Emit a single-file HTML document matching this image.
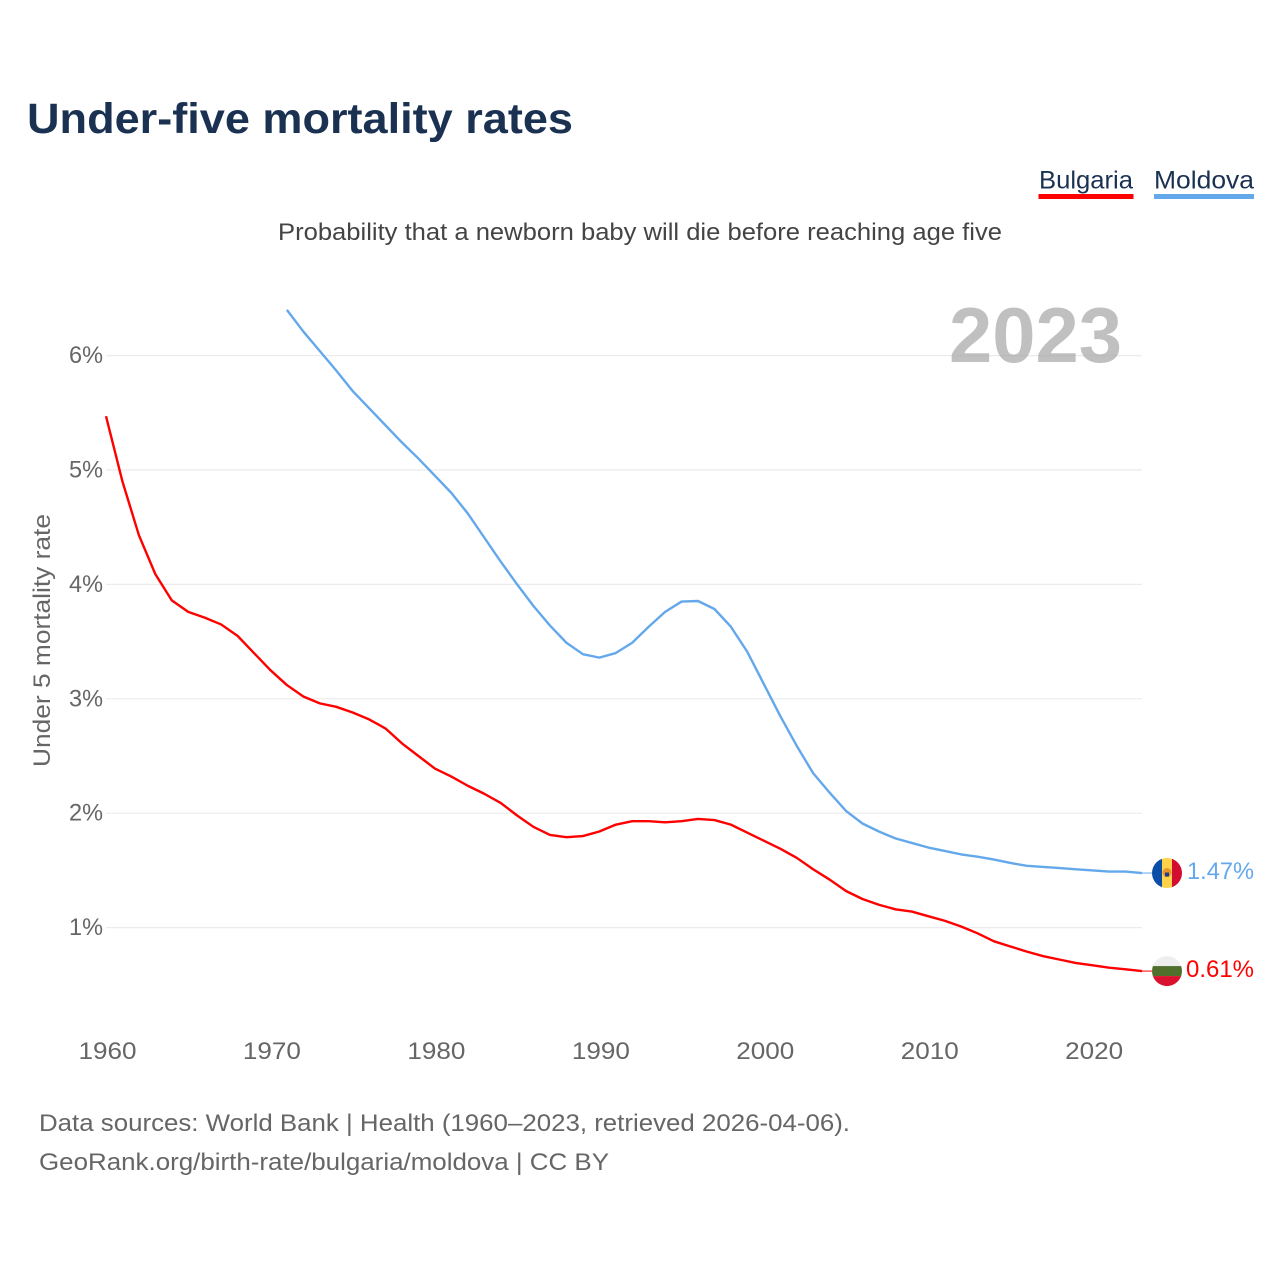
<!DOCTYPE html>
<html lang="en">
<head>
<meta charset="utf-8">
<title>Under-five mortality rates</title>
<style>
html,body{margin:0;padding:0;background:#fff;width:1280px;height:1280px;overflow:hidden}
svg{display:block}
text{font-family:"Liberation Sans",sans-serif}
</style>
</head>
<body>
<svg id="chart" xmlns="http://www.w3.org/2000/svg" width="1280" height="1280" viewBox="0 0 1280 1280">
  <defs>
    <clipPath id="clip-md"><circle cx="0" cy="0" r="15"/></clipPath>
    <clipPath id="clip-bg"><circle cx="0" cy="0" r="15"/></clipPath>
  </defs>
  <text x="27" y="133" font-size="43" font-weight="700" fill="#1a3152" textLength="546" lengthAdjust="spacingAndGlyphs">Under-five mortality rates</text>

  <g>
    <g>
      <text x="1039" y="188.5" font-size="25" fill="#1a3152" textLength="94" lengthAdjust="spacingAndGlyphs">Bulgaria</text>
      <rect x="1038.5" y="194" width="95" height="5" fill="#ff0000"/>
    </g>
    <g>
      <text x="1154" y="188.5" font-size="25" fill="#1a3152" textLength="100" lengthAdjust="spacingAndGlyphs">Moldova</text>
      <rect x="1154" y="194" width="100" height="5" fill="#64a8ec"/>
    </g>
  </g>

  <text x="278" y="240" font-size="24" fill="#444" textLength="724" lengthAdjust="spacingAndGlyphs">Probability that a newborn baby will die before reaching age five</text>

  <g id="grid"></g>

  <text x="949" y="362" font-size="78" font-weight="700" fill="#a8a8a8" fill-opacity="0.72" textLength="173" lengthAdjust="spacingAndGlyphs">2023</text>

  <g id="yticks"></g>
  <g id="xticks"></g>

  <text transform="translate(50,640.5) rotate(-90)" text-anchor="middle" font-size="24" fill="#666" textLength="253" lengthAdjust="spacingAndGlyphs">Under 5 mortality rate</text>

  <polyline id="line-bg" fill="none" stroke="#ff0000" stroke-width="2.4" stroke-linejoin="round"/>
  <polyline id="line-md" fill="none" stroke="#64a8ec" stroke-width="2.4" stroke-linejoin="round"/>

  <line id="conn-bg" stroke="#ff0000" stroke-width="1"/>
  <line id="conn-md" stroke="#64a8ec" stroke-width="1"/>

  <g id="flag-md">
    <g clip-path="url(#clip-md)">
      <rect x="-15" y="-16" width="10" height="32" fill="#0a4ea8"/>
      <rect x="-5" y="-16" width="10" height="32" fill="#ffd24a"/>
      <rect x="5" y="-16" width="10" height="32" fill="#d40c30"/>
      <circle cx="0" cy="-0.5" r="4.5" fill="#e8952c"/>
      <rect x="-2" y="-0.5" width="4" height="4" fill="#1c3f94"/>
    </g>
  </g>
  <g id="flag-bg">
    <g clip-path="url(#clip-bg)">
      <rect x="-16" y="-16" width="32" height="11" fill="#eeeeee"/>
      <rect x="-16" y="-5" width="32" height="10" fill="#4f6f2c"/>
      <rect x="-16" y="5" width="32" height="11" fill="#d9102e"/>
    </g>
  </g>

  <text id="value-md" x="1187" font-size="24" fill="#64a8ec" textLength="67" lengthAdjust="spacingAndGlyphs">1.47%</text>
  <text id="value-bg" x="1186" font-size="24" fill="#ff0000" textLength="68" lengthAdjust="spacingAndGlyphs">0.61%</text>

  <text x="39" y="1131" font-size="24" fill="#666" textLength="811" lengthAdjust="spacingAndGlyphs">Data sources: World Bank | Health (1960–2023, retrieved 2026-04-06).</text>
  <text x="39" y="1170" font-size="24" fill="#666" textLength="570" lengthAdjust="spacingAndGlyphs">GeoRank.org/birth-rate/bulgaria/moldova | CC BY</text>
</svg>
<script>
const bulgariaYears = [1960,1961,1962,1963,1964,1965,1966,1967,1968,1969,1970,1971,1972,1973,1974,1975,1976,1977,1978,1979,1980,1981,1982,1983,1984,1985,1986,1987,1988,1989,1990,1991,1992,1993,1994,1995,1996,1997,1998,1999,2000,2001,2002,2003,2004,2005,2006,2007,2008,2009,2010,2011,2012,2013,2014,2015,2016,2017,2018,2019,2020,2021,2022,2023];
const bulgariaValues = [5.47,4.90,4.43,4.09,3.86,3.76,3.71,3.65,3.55,3.40,3.25,3.12,3.02,2.96,2.93,2.88,2.82,2.74,2.61,2.50,2.39,2.32,2.24,2.17,2.09,1.98,1.88,1.81,1.79,1.80,1.84,1.90,1.93,1.93,1.92,1.93,1.95,1.94,1.90,1.83,1.76,1.69,1.61,1.51,1.42,1.32,1.25,1.20,1.16,1.14,1.10,1.06,1.01,0.95,0.88,0.835,0.79,0.75,0.72,0.69,0.67,0.65,0.635,0.62];
const moldovaYears = [1971,1972,1973,1974,1975,1976,1977,1978,1979,1980,1981,1982,1983,1984,1985,1986,1987,1988,1989,1990,1991,1992,1993,1994,1995,1996,1997,1998,1999,2000,2001,2002,2003,2004,2005,2006,2007,2008,2009,2010,2011,2012,2013,2014,2015,2016,2017,2018,2019,2020,2021,2022,2023];
const moldovaValues = [6.40,6.21,6.04,5.87,5.69,5.54,5.39,5.24,5.10,4.95,4.80,4.62,4.41,4.20,4.00,3.81,3.64,3.49,3.39,3.36,3.40,3.49,3.63,3.76,3.85,3.855,3.785,3.63,3.41,3.13,2.85,2.59,2.35,2.18,2.02,1.91,1.84,1.78,1.74,1.70,1.67,1.64,1.62,1.595,1.565,1.54,1.53,1.52,1.51,1.50,1.49,1.49,1.477];
const yTickValues = [1,2,3,4,5,6];
const xTickValues = [1960,1970,1980,1990,2000,2010,2020];

const NS = 'http://www.w3.org/2000/svg';
function xScale(year){ return 106 + (year - 1960) * (1036 / 63); }
function yScale(v){ return 1042 - v * 114.4; }
function pointsOf(years, values){
  return values.map(function(v, i){ return xScale(years[i]).toFixed(2) + ',' + yScale(v).toFixed(2); }).join(' ');
}

const grid = document.getElementById('grid');
const yTicks = document.getElementById('yticks');
yTickValues.forEach(function(v){
  const ln = document.createElementNS(NS, 'line');
  
  
  ln.setAttribute('x1', 106);
  ln.setAttribute('x2', 1142);
  ln.setAttribute('y1', yScale(v));
  ln.setAttribute('y2', yScale(v));
  ln.setAttribute('stroke', '#ebebeb');
  ln.setAttribute('stroke-width', '1.2');
  grid.appendChild(ln);

  const t = document.createElementNS(NS, 'text');
  
  
  t.setAttribute('x', 69);
  t.setAttribute('y', yScale(v) + 7.5);
  t.setAttribute('font-size', '24');
  t.setAttribute('fill', '#666');
  t.setAttribute('textLength', '34');
  t.setAttribute('lengthAdjust', 'spacingAndGlyphs');
  t.textContent = v + '%';
  yTicks.appendChild(t);
});

const xTicks = document.getElementById('xticks');
xTickValues.forEach(function(y){
  const t = document.createElementNS(NS, 'text');
  
  
  t.setAttribute('x', xScale(y) - 27.5);
  t.setAttribute('y', 1059);
  t.setAttribute('font-size', '24');
  t.setAttribute('fill', '#666');
  t.setAttribute('textLength', '58');
  t.setAttribute('lengthAdjust', 'spacingAndGlyphs');
  t.textContent = y;
  xTicks.appendChild(t);
});

document.getElementById('line-bg').setAttribute('points', pointsOf(bulgariaYears, bulgariaValues));
document.getElementById('line-md').setAttribute('points', pointsOf(moldovaYears, moldovaValues));

function placeEnd(code, values){
  const yEnd = yScale(values[values.length - 1]);
  const conn = document.getElementById('conn-' + code);
  conn.setAttribute('x1', 1142);
  conn.setAttribute('x2', 1152);
  conn.setAttribute('y1', yEnd);
  conn.setAttribute('y2', yEnd);
  document.getElementById('flag-' + code).setAttribute('transform', 'translate(1167,' + yEnd + ')');
  document.getElementById('value-' + code).setAttribute('y', yEnd + 6);
}
placeEnd('bg', bulgariaValues);
placeEnd('md', moldovaValues);
</script>
</body>
</html>
